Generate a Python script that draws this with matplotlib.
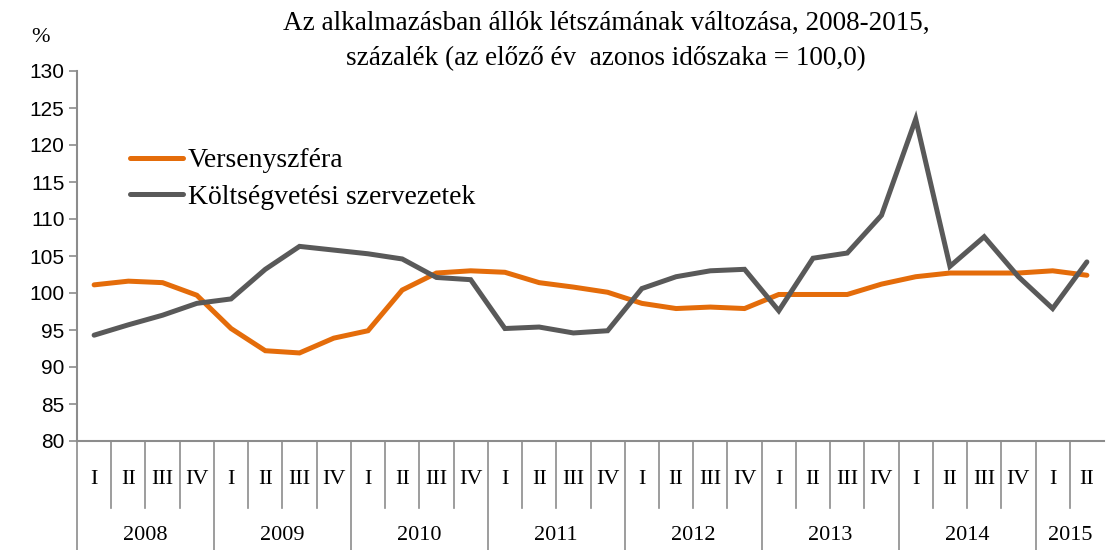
import numpy as np
import matplotlib as mpl
mpl.use("Agg")
import matplotlib.pyplot as plt

mpl.rcParams.update({
    "font.family": ["Liberation Serif", "DejaVu Serif"],
    "font.size": 14,
})

# ── Data ──
years = ["2008", "2009", "2010", "2011", "2012", "2013", "2014", "2015"]
quarters_per_year = [4, 4, 4, 4, 4, 4, 4, 2]
quarter_names = ["I", "II", "III", "IV"]

versenyszfera = [101.1, 101.6, 101.4, 99.7, 95.2, 92.2, 91.9, 93.9, 94.9, 100.4,
                 102.7, 103.0, 102.8, 101.4, 100.8, 100.1, 98.6, 97.9, 98.1, 97.9,
                 99.8, 99.8, 99.8, 101.2, 102.2, 102.7, 102.7, 102.7, 103.0, 102.4]
koltsegvetesi = [94.3, 95.7, 97.0, 98.6, 99.2, 103.2, 106.3, 105.8, 105.3, 104.6,
                 102.1, 101.8, 95.2, 95.4, 94.6, 94.9, 100.6, 102.2, 103.0, 103.2,
                 97.6, 104.7, 105.4, 110.5, 123.5, 103.6, 107.6, 102.2, 97.9, 104.2]

title = ("Az alkalmazásban állók létszámának változása, 2008-2015,\n"
         "százalék (az előző év  azonos időszaka = 100,0)")

ORANGE = "#E46C0A"
GRAY = "#595959"
AXIS = "#8C8C8C"

n = len(versenyszfera)
x = np.arange(n) + 0.5

fig = plt.figure(figsize=(11.06, 5.5), dpi=100)
ax = fig.add_axes([77/1106, 1 - 441/550, (1104-77)/1106, (441-71)/550])

ax.plot(x, versenyszfera, color=ORANGE, lw=3.6, solid_capstyle="round",
        solid_joinstyle="miter", label="Versenyszféra")
ax.plot(x, koltsegvetesi, color=GRAY, lw=3.6, solid_capstyle="round",
        solid_joinstyle="miter", label="Költségvetési szervezetek")

ax.set_xlim(0, n)
ax.set_ylim(80, 130)
ax.set_yticks(np.arange(80, 131, 5))
ax.tick_params(axis="y", direction="out", length=6, color=AXIS, width=1.2,
               labelsize=15, pad=3)
for lab in ax.get_yticklabels():
    lab.set_fontfamily(["Liberation Sans Narrow", "Liberation Sans", "DejaVu Sans"])
ax.set_xticks([])
for s in ["top", "right"]:
    ax.spines[s].set_visible(False)
for s in ["left", "bottom"]:
    ax.spines[s].set_color(AXIS)
    ax.spines[s].set_linewidth(1.5)

# ── Multi-level category axis ──
tr = ax.get_xaxis_transform()
q_sep_bottom = -(508 - 441) / 370
y_sep_bottom = -(550 - 441) / 370
q_label_y = -(480 - 441) / 370
y_label_y = -(535 - 441) / 370

pos = 0
for yr, nq in zip(years, quarters_per_year):
    for q in range(nq):
        ax.text(pos + q + 0.5, q_label_y, quarter_names[q], transform=tr,
                ha="center", va="center", fontsize=16)
        if q > 0:
            ax.plot([pos + q, pos + q], [0, q_sep_bottom], transform=tr,
                    color=AXIS, lw=1.2, clip_on=False)
    ax.plot([pos, pos], [0, y_sep_bottom], transform=tr, color=AXIS, lw=1.2,
            clip_on=False)
    ax.text(pos + nq / 2, y_label_y, yr, transform=tr, ha="center",
            va="center", fontsize=16)
    pos += nq

# ── Title and unit ──
fig.text(606/1106, 1 - 41/550, title, ha="center", va="center", fontsize=19.5,
         linespacing=1.5)
fig.text(40/1106, 1 - 38/550, "%", ha="center", va="center", fontsize=16)

leg = ax.legend(loc="upper left", bbox_to_anchor=(0.027, 0.86), frameon=False,
                fontsize=20, handlelength=1.9, handletextpad=0.2,
                labelspacing=0.4)

fig.savefig("out.png", dpi=100)
